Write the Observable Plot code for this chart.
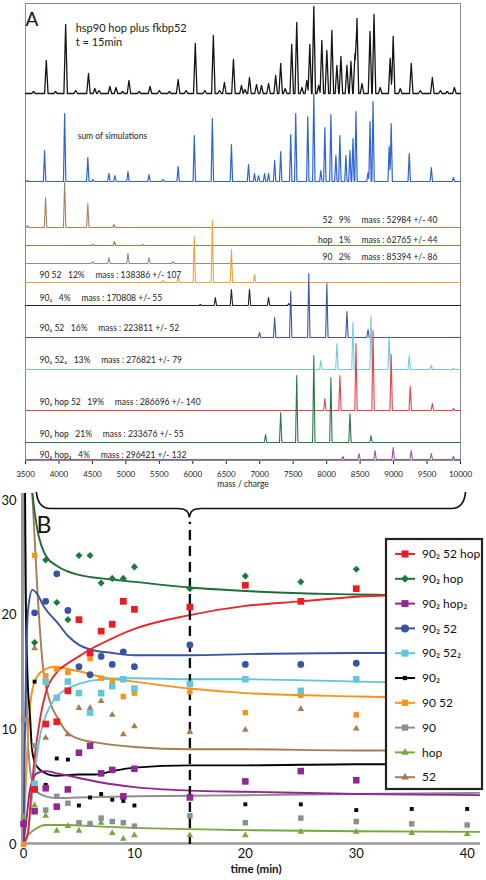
<!DOCTYPE html>
<html><head><meta charset="utf-8">
<script src="https://cdn.jsdelivr.net/npm/d3@7"></script>
<script src="https://cdn.jsdelivr.net/npm/@observablehq/plot@0.6"></script>
<style>
body{margin:0;background:#fff;}
#wrap{position:relative;width:486px;height:880px;overflow:hidden;font-family:Lato,sans-serif;background:#fff;}
#wrap svg{position:absolute;left:0;}
</style></head><body><div id="wrap"></div>
<script>
// ================= DATA : panel A (mass spectra) =================
const mzTicks = [3500,4000,4500,5000,5500,6000,6500,7000,7500,8000,8500,9000,9500,10000];
// peaks: [m/z, intensity]
const peaksExp = [[3620,2],[3811,33],[3950,2],[4100,69],[4250,3],[4441,20],[4536,5],[4600,3],[4761,7],[4851,6],[4950,2],[5046,13],[5200,2],[5361,7],[5500,3],[5650,2],[5781,14],[5900,3],[6037,50],[6180,3],[6307,58],[6400,3],[6472,11],[6607,34],[6727,8],[6780,4],[6847,16],[6952,9],[7027,8],[7132,10],[7238,18],[7313,30],[7380,5],[7478,49],[7553,71],[7630,6],[7703,13],[7748,49],[7808,87],[7880,8],[7928,53],[8003,43],[8078,63],[8153,28],[8213,37],[8303,28],[8363,32],[8423,40],[8453,75],[8528,10],[8648,62],[8708,79],[8800,6],[8949,35],[8994,57],[9100,5],[9264,30],[9400,3],[9579,16],[9700,3],[9800,2],[9909,6]];
const peaksSum = [[3530,1],[3785,31],[4085,68],[4431,24],[4506,2],[4746,8],[4836,6],[5031,10],[5346,7],[5556,2],[5781,15],[6022,46],[6292,63],[6577,37],[6832,17],[6922,8],[6982,6],[7072,8],[7132,8],[7223,21],[7313,30],[7463,47],[7538,68],[7718,65],[7808,88],[7913,11],[7973,54],[8063,67],[8138,26],[8198,46],[8288,26],[8348,31],[8393,43],[8438,70],[8618,9],[8648,60],[8693,80],[8934,35],[8964,58],[9234,28],[9564,14],[9894,4]];
const peaks52 = [[3530,2],[3800,30],[4085,46],[4431,24],[4821,3]];
const peaksHop = [[4506,1],[4830,4],[5256,1]];
const peaks90 = [[4506,2],[4746,6],[5031,10],[5346,6],[5706,2]];
const peaks90_52 = [[5556,2],[5781,6],[6022,46],[6292,62],[6577,33],[6922,8]];
const peaks90_2 = [[6112,1],[6337,8],[6577,16],[6847,16],[7132,8],[7433,2]];
const peaks90_2_52 = [[6997,5],[7223,20],[7463,46],[7733,64],[8003,54],[8303,26],[8618,8]];
const peaks90_2_52_2 = [[7913,9],[8153,26],[8393,47],[8663,54],[8934,34],[9234,14],[9564,4],[9894,1]];
const peaks90_2_hop_52 = [[7973,12],[8198,35],[8438,67],[8693,80],[8964,56],[9249,24],[9579,7],[9894,2]];
const peaks90_2_hop = [[7087,8],[7313,30],[7553,67],[7808,87],[8063,65],[8348,29],[8663,7]];
const peaks90_2_hop_2 = [[8243,3],[8483,6],[8723,9],[8994,12],[9264,9],[9564,6],[9894,3]];

const componentNames = ["52","hop","90","90 52","90₂","90₂ 52","90₂ 52₂","90₂ hop 52","90₂ hop","90₂ hop₂"];
const componentPercents = [9,1,2,12,4,16,13,19,21,4];
const componentMasses = [52984,62765,85394,138386,170808,223811,276821,286696,233676,296421];
const componentErrors = [40,44,86,107,55,52,79,140,55,132];

// ================= DATA : panel B (kinetics) =================
const timeTicks = [0,10,20,30,40];
const concTicks = [0,10,20,30];
const sampleTimes = [0,1,2,3,4,5,6,7,8,9,10,15,20,25,30,35,40];
const spectrumTime = 15;
const obs90_2_52hop = [null,4.8,10.5,10.7,13.4,19.6,16.7,18.6,19.2,21.2,20.5,20.7,22.6,21.2,22.3,null,null];
const obs90_2hop    = [null,17.6,24.8,21.1,19.6,25.2,25.2,22.8,23.2,23.2,24.2,22.3,23.4,22.9,24.0,null,null];
const obs90_2hop_2  = [1.8,2.9,4.9,3.3,4.8,8.0,8.6,6.2,6.5,4.2,6.6,4.1,5.5,6.4,5.6,null,null];
const obs90_2_52    = [null,20.2,21.2,23.6,20.4,15.5,14.8,16.4,15.7,16.8,15.5,17.4,15.7,15.7,15.8,null,null];
const obs90_2_52_2  = [null,5.3,14.2,12.8,14.2,13.2,11.5,13.2,13.8,14.4,13.6,14.0,14.4,13.4,14.4,null,null];
const obs90_2       = [null,14.2,5.2,7.5,7.4,3.4,4.1,4.4,3.9,3.8,3.4,4.2,3.5,3.5,3.0,3.1,3.1];
const obs90_52      = [0,25.2,14.7,15.3,15.0,null,16.2,14.5,14.3,12.9,13.2,13.3,11.5,13.0,11.3,null,null];
const obs90         = [10.9,8.6,3.0,4.2,3.6,1.9,1.8,2.3,2.0,1.9,1.6,2.5,1.9,2.3,2.0,1.8,1.7];
const obsHop        = [2.4,3.4,2.5,1.2,1.6,1.2,1.8,1.9,1.0,0.5,0.8,0.8,0.8,1.1,1.1,1.0,0.9];
const obs52         = [null,17.1,9.3,null,9.6,11.9,11.9,12.5,11.3,9.6,10.3,9.8,10.0,11.8,10.1,null,null];
// fitted curves: [time, value]
const fit90_2_52hop = [[0,0],[0.4,1],[0.7,4.5],[1,7.5],[1.5,11],[2,13.2],[3,15.0],[4,15.8],[5,16.4],[6,17.0],[7,17.5],[10,18.8],[15,20.0],[20,20.8],[25,21.2],[30,21.6],[35,21.8],[41.2,22.0]];
const fit90_2hop    = [[0.7,31.5],[1,29],[1.3,27.2],[1.6,26.1],[2,25.2],[3,24.3],[4,23.8],[5,23.5],[8,23.1],[10,22.9],[15,22.4],[20,22.1],[25,21.9],[30,21.8],[35,21.7],[41.2,21.6]];
const fit90_2hop_2  = [[0,0],[0.3,2.5],[0.55,4.6],[0.8,5.6],[1.2,6.2],[2,6.4],[3,6.2],[5,5.8],[7,5.4],[10,5.0],[15,4.7],[20,4.6],[30,4.4],[41.2,4.3]];
const fit90_2_52    = [[0,0],[0.1,8],[0.25,16.5],[0.45,20.8],[0.8,22.2],[1.2,21.9],[1.8,20.8],[3,19.4],[4,18.2],[5,17.4],[6,17.0],[8,16.7],[10,16.5],[15,16.5],[20,16.6],[30,16.7],[41.2,16.7]];
const fit90_2_52_2  = [[0,0],[0.4,1],[0.7,3.5],[1,6.2],[1.5,9.5],[2,11.2],[3,12.9],[4,13.6],[5,14.0],[7,14.4],[10,14.5],[15,14.4],[20,14.4],[30,14.2],[41.2,14.0]];
const fit90_2       = [[0.08,40],[0.2,22],[0.35,15],[0.6,11],[0.75,8.5],[1,7.2],[1.5,6.5],[2.9,6.0],[5,6.1],[6.5,6.1],[8,6.4],[10,6.7],[15,6.9],[20,6.9],[30,7.0],[41.2,7.0]];
const fit90_52      = [[0,0],[0.2,5],[0.5,11],[0.8,13.5],[1.2,14.6],[2,15.3],[2.8,15.5],[4,15.3],[5,15.1],[7,14.6],[10,14.2],[15,13.6],[20,13.2],[30,12.9],[41.2,12.7]];
const fit90         = [[0,40],[0.3,12],[0.5,7.5],[0.8,5.4],[1.2,4.6],[2,4.2],[3,4.05],[5,4.1],[10,4.2],[20,4.3],[30,4.4],[41.2,4.5]];
const fitHop        = [[0,0.3],[0.5,0.9],[1,1.3],[2,1.7],[4,1.7],[6,1.6],[10,1.45],[20,1.25],[30,1.15],[41.2,1.1]];
const fit52         = [[0.55,35],[0.8,30.5],[1.25,22.2],[1.7,16],[2.4,12.4],[3.1,11.0],[3.8,9.9],[5,9.2],[6.5,8.9],[10,8.5],[15,8.3],[20,8.3],[30,8.2],[41.2,8.2]];
const legendNames = ["90₂ 52 hop","90₂ hop","90₂ hop₂","90₂ 52","90₂ 52₂","90₂","90 52","90","hop","52"];

// ================= STYLE / LAYOUT =================
const FONT = "Lato, 'Open Sans', sans-serif";
const spectra = [
  {peaks: peaksExp,        color: "#151515", base: 367, half: 26, w: 1.3},
  {peaks: peaksSum,        color: "#2f64d8", base: 279, half: 18, w: 1.2},
  {peaks: peaks52,         color: "#a8845e", base: 233, half: 18, w: 1.1},
  {peaks: peaksHop,        color: "#6f9440", base: 215, half: 18, w: 1.1},
  {peaks: peaks90,         color: "#8c8c8c", base: 197, half: 18, w: 1.1},
  {peaks: peaks90_52,      color: "#f4a23a", base: 178, half: 18, w: 1.1},
  {peaks: peaks90_2,       color: "#222222", base: 155, half: 18, w: 1.1},
  {peaks: peaks90_2_52,    color: "#4057a3", base: 123, half: 18, w: 1.1},
  {peaks: peaks90_2_52_2,  color: "#72cbe0", base: 91,  half: 18, w: 1.1},
  {peaks: peaks90_2_hop_52,color: "#e8434b", base: 50,  half: 18, w: 1.1},
  {peaks: peaks90_2_hop,   color: "#287a48", base: 18,  half: 18, w: 1.1},
  {peaks: peaks90_2_hop_2, color: "#9b55a3", base: 1,   half: 18, w: 1.1}
];
// label placement per component (index into componentNames)
const labelPlace = [
  {anchor: "end", mz: 9654, y: 240}, {anchor: "end", mz: 9654, y: 220}, {anchor: "end", mz: 9654, y: 203},
  {anchor: "start", mz: 3710, y: 185}, {anchor: "start", mz: 3710, y: 162}, {anchor: "start", mz: 3710, y: 132},
  {anchor: "start", mz: 3710, y: 100}, {anchor: "start", mz: 3710, y: 58}, {anchor: "start", mz: 3710, y: 26},
  {anchor: "start", mz: 3710, y: 5.5}
];

const series = [
  {name: legendNames[0], obs: obs90_2_52hop, fit: fit90_2_52hop, color: "#ed1c24", line: "#e8262d", symbol: "square",   r: 3.8, lsym: d3.symbolSquare,   lsize: 49},
  {name: legendNames[1], obs: obs90_2hop,    fit: fit90_2hop,    color: "#1b7a3e", line: "#1f6e3a", symbol: "diamond2", r: 3.2, lsym: d3.symbolDiamond2, lsize: 42},
  {name: legendNames[2], obs: obs90_2hop_2,  fit: fit90_2hop_2,  color: "#92278f", line: "#92278f", symbol: "square",   r: 3.7, lsym: d3.symbolSquare,   lsize: 49},
  {name: legendNames[3], obs: obs90_2_52,    fit: fit90_2_52,    color: "#3953a4", line: "#3953a4", symbol: "circle",   r: 3.4, lsym: d3.symbolCircle,   lsize: 50},
  {name: legendNames[4], obs: obs90_2_52_2,  fit: fit90_2_52_2,  color: "#62c6da", line: "#62c6da", symbol: "square",   r: 3.7, lsym: d3.symbolSquare,   lsize: 49},
  {name: legendNames[5], obs: obs90_2,       fit: fit90_2,       color: "#000000", line: "#000000", symbol: "square",   r: 2.2, lsym: d3.symbolSquare,   lsize: 18},
  {name: legendNames[6], obs: obs90_52,      fit: fit90_52,      color: "#f7941d", line: "#f7941d", symbol: "square",   r: 3.1, lsym: d3.symbolSquare,   lsize: 40},
  {name: legendNames[7], obs: obs90,         fit: fit90,         color: "#8e8e8e", line: "#8e8e8e", symbol: "square",   r: 3.1, lsym: d3.symbolSquare,   lsize: 40},
  {name: legendNames[8], obs: obsHop,        fit: fitHop,        color: "#78a83a", line: "#78a83a", symbol: "triangle", r: 2.5, lsym: d3.symbolTriangle, lsize: 26},
  {name: legendNames[9], obs: obs52,         fit: fit52,         color: "#a67c52", line: "#a67c52", symbol: "triangle", r: 2.5, lsym: d3.symbolTriangle, lsize: 26}
];

const wrap = document.getElementById("wrap");

// ================= PANEL A =================
function traceRows(peaks, base, half) {
  const xs = new Set([3500, 10000]);
  for (const [m] of peaks) { xs.add(m - half); xs.add(m); xs.add(m + half); }
  return [...xs].filter(x => x >= 3500 && x <= 10000).sort((a, b) => a - b)
    .map(x => ({mz: x, y: base + (d3.max(peaks, ([m, h]) => h * Math.max(0, 1 - Math.abs(x - m) / half)) || 0)}));
}
const compLabels = componentNames.map((n, i) => ({
  text: `${n}   ${componentPercents[i]}%     mass : ${componentMasses[i]} +/- ${componentErrors[i]}`,
  ...labelPlace[i]
}));

const plotA = Plot.plot({
  width: 486, height: 492,
  marginLeft: 25, marginRight: 26, marginTop: 3, marginBottom: 32,
  x: {domain: [3500, 10000], ticks: mzTicks, tickFormat: d => String(d), tickSize: 4, tickPadding: 7, label: null},
  y: {domain: [0, 457], axis: null},
  style: {fontFamily: FONT, fontSize: "8px", background: "transparent", overflow: "visible", color: "#222"},
  marks: [
    Plot.frame({stroke: "#8a8a8a", strokeWidth: 1}),
    ...spectra.map(s => Plot.line(traceRows(s.peaks, s.base, s.half), {x: "mz", y: "y", stroke: s.color, strokeWidth: s.w})),
    Plot.text(compLabels.filter(d => d.anchor === "end"), {x: "mz", y: "y", text: "text", textAnchor: "end", fontSize: 8.5, fill: "#222"}),
    Plot.text(compLabels.filter(d => d.anchor === "start"), {x: "mz", y: "y", text: "text", textAnchor: "start", fontSize: 8.5, fill: "#222"}),
    Plot.text(["hsp90 hop plus fkbp52", "t = 15min"], {x: () => 4250, y: (d, i) => 432 - 14 * i, text: d => d, textAnchor: "start", fontSize: 11, fill: "#222"}),
    Plot.text(["sum of simulations"], {x: () => 4280, y: () => 324, text: d => d, textAnchor: "start", fontSize: 8.5, fill: "#222"}),
    Plot.text(["mass / charge"], {frameAnchor: "bottom", dy: 26, text: d => d, fontSize: 8.5, fill: "#222"})
  ]
});
plotA.style.top = "0px";
wrap.appendChild(plotA);
d3.select(plotA).append("text").attr("x", 32).attr("y", 26).attr("font-size", 19).attr("font-family", FONT).attr("fill", "#111").text("A");

// ================= PANEL B =================
const obsRows = s => sampleTimes.map((t, i) => ({t, v: s.obs[i]})).filter(d => d.v != null);
const fitRows = s => s.fit.map(([t, v]) => ({t, v}));

const plotB = Plot.plot({
  width: 486, height: 390,
  marginLeft: 23, marginRight: 6, marginTop: 3, marginBottom: 36,
  x: {domain: [0, 41.2], ticks: timeTicks, tickSize: 0, tickPadding: 4, label: null},
  y: {domain: [0, 30.6], ticks: concTicks, tickSize: 0, tickPadding: 7, label: null},
  style: {fontFamily: FONT, fontSize: "13px", background: "transparent", overflow: "visible", color: "#111"},
  marks: [
    Plot.ruleY([0], {stroke: "#9a9a9a", strokeWidth: 2.5, dy: -1}),
    Plot.ruleX([0], {stroke: "#9a9a9a", strokeWidth: 3, dx: -1}),
    ...series.slice().reverse().map(s => Plot.line(fitRows(s), {x: "t", y: "v", stroke: s.line, strokeWidth: 1.9, curve: "monotone-x", clip: true})),
    Plot.ruleX([spectrumTime], {y1: 0, y2: 28.1, stroke: "#111", strokeWidth: 2.4, strokeDasharray: "10,6"}),
    ...series.slice().reverse().map(s => Plot.dot(obsRows(s), {x: "t", y: "v", symbol: () => s.symbol, r: s.r, fill: s.color, stroke: "none"})),
    Plot.text(["time (min)"], {frameAnchor: "bottom", dy: 28, dx: 4, text: d => d, fontSize: 11.5, fontWeight: "bold", fill: "#111"})
  ]
});
plotB.style.top = "490px";
wrap.appendChild(plotB);
{
  const sx = plotB.scale("x");
  const g = d3.select(plotB);
  g.append("text").attr("x", 44).attr("y", 43).attr("font-size", 23).attr("font-family", FONT).attr("fill", "#111").text("B");
  // brace from the spectrum above down to the sampled time
  const x0 = sx.apply(1.2), xt = sx.apply(spectrumTime), x1 = sx.apply(39.9);
  const yT = 2, yM = 18.5, yP = 27.5;
  const p = `M${x0},${yT} C${x0 + 1},${yM - 7} ${x0 + 5},${yM} ${x0 + 14},${yM} L${xt - 12},${yM} C${xt - 4},${yM} ${xt - 1},${yM + 2} ${xt},${yP} C${xt + 1},${yM + 2} ${xt + 4},${yM} ${xt + 12},${yM} L${x1 - 14},${yM} C${x1 - 5},${yM} ${x1 - 1},${yM - 7} ${x1},${yT}`;
  g.append("path").attr("d", p).attr("fill", "none").attr("stroke", "#111").attr("stroke-width", 1.7);
}

// ================= LEGEND =================
{
  const leg = d3.select(wrap).append("svg").attr("width", 100).attr("height", 254)
    .style("left", "384px").style("top", "537px");
  leg.append("rect").attr("x", 2).attr("y", 2).attr("width", 96).attr("height", 250)
    .attr("fill", "#fff").attr("stroke", "#222").attr("stroke-width", 2.2);
  series.forEach((s, i) => {
    const cy = 17 + i * 24.8;
    const gg = leg.append("g");
    gg.append("line").attr("x1", 11).attr("x2", 31).attr("y1", cy).attr("y2", cy).attr("stroke", s.line).attr("stroke-width", 2);
    gg.append("path").attr("d", d3.symbol(s.lsym, s.lsize)()).attr("transform", `translate(21,${cy})`).attr("fill", s.color);
    gg.append("text").attr("x", 38).attr("y", cy).attr("dy", "0.35em").attr("font-size", 12).attr("font-family", FONT).attr("fill", "#111").text(s.name);
  });
}
</script></body></html>
